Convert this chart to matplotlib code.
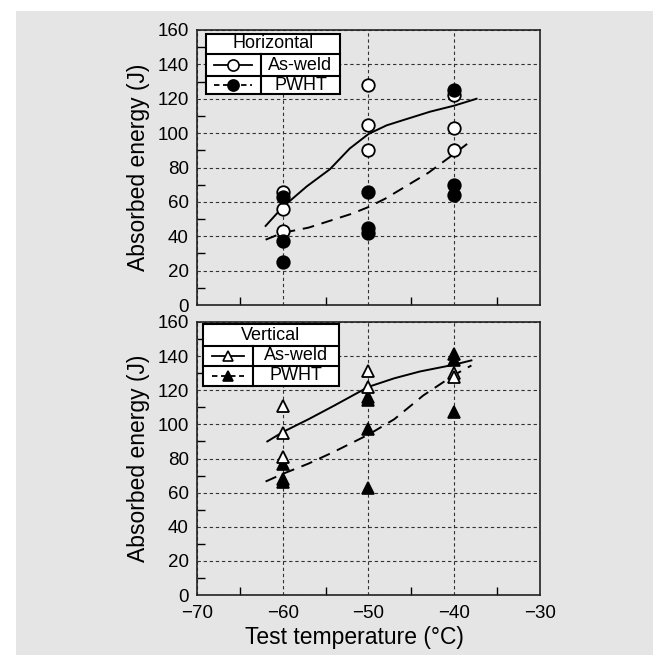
import numpy as np
import matplotlib.pyplot as plt
from matplotlib.patches import Rectangle
from matplotlib.lines import Line2D

plt.rcParams['font.family'] = ['Liberation Sans', 'DejaVu Sans']

BG = '#e5e5e5'

# horizontal position
temps = [-60, -60, -60, -50, -50, -50, -40, -40, -40]
h_asweld = [66, 56, 43, 128, 105, 90, 122, 103, 90]
h_pwht = [63, 37, 25, 66, 45, 42, 125, 70, 64]
# fitted trend curves
h_asweld_fit_t = [-62, -60, -57.2, -54.5, -52.2, -50, -47.9, -46, -42.8, -40, -37.4]
h_asweld_fit_e = [46, 57, 69, 79, 91, 99.5, 104.5, 107.5, 112.5, 116, 120]
h_pwht_fit_t = [-62, -60, -57, -54.5, -52, -50, -48, -46, -43, -40, -37.9]
h_pwht_fit_e = [38, 42, 45, 49, 53, 57, 62, 68, 77, 88, 96]

# vertical position
v_temps = [-60, -60, -60, -50, -50, -40, -40]
v_asweld = [111, 95, 81, 131, 122, 130, 128]
v_temps_p = [-60, -60, -60, -50, -50, -50, -50, -40, -40, -40]
v_pwht = [77, 68, 66, 116, 114, 97, 63, 141, 138, 107]
v_asweld_fit_t = [-61.8, -60, -57, -54, -50, -47, -44, -40, -38]
v_asweld_fit_e = [90, 95.5, 103, 111, 122, 127, 131, 135, 137.5]
v_pwht_fit_t = [-62, -60, -57, -54, -50, -47, -43.6, -40, -38]
v_pwht_fit_e = [66.5, 71, 77, 84, 94, 103, 117, 129, 134.5]

fig = plt.figure(figsize=(6.53, 6.55), dpi=100)
fig.patches.append(Rectangle((16 / 653, 0), 1, 1 - 11 / 655, transform=fig.transFigure,
                             facecolor=BG, edgecolor='none', zorder=-10))

ax1 = fig.add_axes([197 / 653, 1 - 305 / 655, 343 / 653, 275 / 655])
ax2 = fig.add_axes([197 / 653, 1 - 595 / 655, 343 / 653, 273 / 655])


def style_axes(ax, show_x):
    ax.set_facecolor(BG)
    ax.set_xlim(-70, -30)
    ax.set_ylim(0, 160)
    ax.set_xticks([-70, -60, -50, -40, -30])
    ax.set_xticks([-65, -55, -45, -35], minor=True)
    ax.set_yticks(range(0, 161, 20))
    ax.set_yticks(range(10, 160, 20), minor=True)
    ax.tick_params(which='both', direction='in', length=6, width=1, labelsize=13.5)
    ax.tick_params(axis='y', which='major', length=0, pad=6)
    ax.tick_params(axis='x', which='major', length=0, pad=7)
    ax.set_xticklabels(['\u221270', '\u221260', '\u221250', '\u221240', '\u221230'])
    if not show_x:
        ax.tick_params(axis='x', labelbottom=False)
    ax.grid(True, which='major', linestyle=(0, (3, 2.5)), color='#333333', linewidth=0.8)
    for s in ax.spines.values():
        s.set_linewidth(1.2)
        s.set_color('#222222')
    ax.set_ylabel('Absorbed energy (J)', fontsize=16.5, labelpad=5)


def table_legend(ax, x0, x1, xdiv, ys, title, marker, ms):
    # ys: top, row1, row2, bottom in axes fraction
    kw = dict(transform=ax.transAxes, color='black', linewidth=1.5, zorder=6, clip_on=False)
    ax.add_patch(Rectangle((x0, ys[3]), x1 - x0, ys[0] - ys[3], transform=ax.transAxes,
                           facecolor='white', edgecolor='black', linewidth=1.5, zorder=5))
    ax.add_line(Line2D([x0, x1], [ys[1], ys[1]], **kw))
    ax.add_line(Line2D([x0, x1], [ys[2], ys[2]], **kw))
    ax.add_line(Line2D([xdiv, xdiv], [ys[1], ys[3]], **kw))
    ax.text((x0 + x1) / 2, (ys[0] + ys[1]) / 2, title, transform=ax.transAxes,
            ha='center', va='center', fontsize=13, zorder=7)
    labels = ['As-weld', 'PWHT']
    styles = ['-', (0, (3, 2))]
    faces = ['white', 'black']
    for i in range(2):
        yc = (ys[1 + i] + ys[2 + i]) / 2
        xs = [x0 + 0.025, xdiv - 0.025]
        ax.add_line(Line2D(xs, [yc, yc], linestyle=styles[i], transform=ax.transAxes,
                           color='black', linewidth=1.3, zorder=7))
        ax.add_line(Line2D([(xs[0] + xs[1]) / 2], [yc], marker=marker, markersize=ms,
                           markerfacecolor=faces[i], markeredgecolor='black',
                           markeredgewidth=1.2, transform=ax.transAxes, zorder=8))
        ax.text((xdiv + x1) / 2, yc, labels[i], transform=ax.transAxes,
                ha='center', va='center', fontsize=13, zorder=7)


style_axes(ax1, False)
style_axes(ax2, True)
ax2.set_xlabel('Test temperature (\u00b0C)', fontsize=16.5, labelpad=3, x=0.46)

# top panel
ax1.plot(h_asweld_fit_t, h_asweld_fit_e, '-', color='black', lw=1.4, zorder=3)
ax1.plot(h_pwht_fit_t, h_pwht_fit_e, linestyle=(0, (6, 4)), color='black', lw=1.4, zorder=3)
ax1.plot(temps, h_asweld, 'o', ms=9, mfc='white', mec='black', mew=1.3, ls='none', zorder=4)
ax1.plot(temps, h_pwht, 'o', ms=9, mfc='black', mec='black', mew=1.3, ls='none', zorder=4)

# bottom panel
ax2.plot(v_asweld_fit_t, v_asweld_fit_e, '-', color='black', lw=1.4, zorder=3)
ax2.plot(v_pwht_fit_t, v_pwht_fit_e, linestyle=(0, (6, 4)), color='black', lw=1.4, zorder=3)
ax2.plot(v_temps_p, v_pwht, '^', ms=9, mfc='black', mec='black', mew=1.2, ls='none', zorder=4)
ax2.plot(v_temps, v_asweld, '^', ms=9, mfc='white', mec='black', mew=1.3, ls='none', zorder=4)

table_legend(ax1, (205.7 - 197) / 343, (340 - 197) / 343, (261 - 197) / 343,
             [(305 - 34) / 275, (305 - 54) / 275, (305 - 76) / 275, (305 - 94) / 275],
             'Horizontal', 'o', 8)
table_legend(ax2, (203 - 197) / 343, (339 - 197) / 343, (252.7 - 197) / 343,
             [(595 - 324) / 273, (595 - 346) / 273, (595 - 366) / 273, (595 - 386) / 273],
             'Vertical', '^', 7)

fig.savefig('out.png', dpi=100)
